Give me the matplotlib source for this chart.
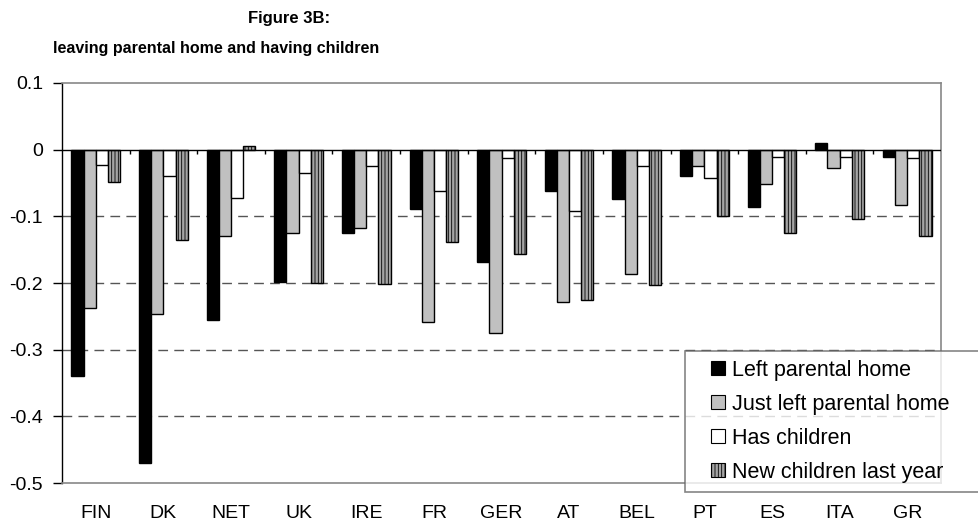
import matplotlib
matplotlib.use("Agg")
import matplotlib.pyplot as plt
import numpy as np
from matplotlib.patches import Patch, Rectangle
from matplotlib.legend_handler import HandlerPatch

plt.rcParams['font.family'] = ['Liberation Sans', 'DejaVu Sans']
plt.rcParams['axes.unicode_minus'] = False
plt.rcParams['hatch.linewidth'] = 0.6
plt.rcParams['hatch.color'] = '#8c8c8c'

countries = ["FIN", "DK", "NET", "UK", "IRE", "FR", "GER", "AT", "BEL", "PT", "ES", "ITA", "GR"]
left_home = [-0.340, -0.470, -0.255, -0.198, -0.125, -0.089, -0.169, -0.062, -0.074, -0.039, -0.086, 0.010, -0.011]
just_left = [-0.238, -0.246, -0.130, -0.125, -0.117, -0.259, -0.275, -0.228, -0.187, -0.024, -0.052, -0.027, -0.083]
has_children = [-0.023, -0.039, -0.072, -0.035, -0.024, -0.062, -0.013, -0.092, -0.024, -0.042, -0.011, -0.011, -0.013]
new_children = [-0.049, -0.135, 0.005, -0.200, -0.202, -0.138, -0.156, -0.225, -0.203, -0.099, -0.125, -0.104, -0.130]
series_labels = ["Left parental home", "Just left parental home", "Has children", "New children last year"]
yticks = [0.1, 0, -0.1, -0.2, -0.3, -0.4, -0.5]
ytick_labels = ["0.1", "0", "-0.1", "-0.2", "-0.3", "-0.4", "-0.5"]

W, H = 979, 529
fig = plt.figure(figsize=(W/100, H/100), dpi=100)
ax = fig.add_axes([62/W, (H-483)/H, 879/W, 400/H])

x = np.arange(len(countries))
bw = 0.18
styles = [
    dict(color='#000000', hatch=None),
    dict(color='#c0c0c0', hatch=None),
    dict(color='#ffffff', hatch=None),
    dict(color='#a4a4a4', hatch='|||||'),
]
data = [left_home, just_left, has_children, new_children]
for k, (vals, st) in enumerate(zip(data, styles)):
    ax.bar(x + (k - 1.5) * bw, vals, width=bw, facecolor=st['color'],
           edgecolor='black', linewidth=1.0, hatch=st['hatch'], zorder=3)

ax.set_xlim(-0.5, len(countries) - 0.5)
ax.set_ylim(-0.5, 0.1)

# gridlines
for yv in yticks[2:-1]:
    ax.axhline(yv, color='#555555', lw=1.0, ls=(0, (7, 4.5)), zorder=1)
ax.axhline(0, color='black', lw=1.0, zorder=4)
# category boundary ticks on the zero line
ax.vlines(np.arange(len(countries) - 1) + 0.5, -0.007, 0, color='black', lw=1.0, zorder=4)

ax.set_yticks(yticks)
ax.set_yticklabels(ytick_labels, fontsize=14)
ax.tick_params(axis='y', direction='out', length=6.5, width=1, color='black', pad=7)
ax.set_xticks(x)
ax.set_xticklabels(countries, fontsize=14)
ax.tick_params(axis='x', length=0, pad=16)

for s in ['top', 'right', 'bottom']:
    ax.spines[s].set_color('#888888')
    ax.spines[s].set_linewidth(1.2)
ax.spines['left'].set_color('black')
ax.spines['left'].set_linewidth(1.0)


def square_patch(legend, orig_handle, xdescent, ydescent, width, height, fontsize):
    side = height * 1.0
    return Rectangle((width - side - xdescent, -ydescent + (height - side) / 2), side, side)


handles = [Patch(facecolor=st['color'], edgecolor='black', linewidth=0.8, hatch=st['hatch'])
           for st in styles]
leg = fig.legend(handles, series_labels, loc='upper left',
                 bbox_to_anchor=(685/W, 1 - 494/H, 300/W, (494-351)/H), mode='expand',
                 fontsize=15.5, frameon=True, fancybox=False, edgecolor='#666666',
                 handlelength=1.45, handleheight=0.62, handletextpad=0.3,
                 labelspacing=0.6, borderpad=0.42, borderaxespad=0,
                 handler_map={Patch: HandlerPatch(patch_func=square_patch)})
leg.get_frame().set_linewidth(1.2)
leg.set_zorder(10)

fig.text(289/W, 1 - 19/H, "Figure 3B:", ha='center', va='center', fontsize=12, fontweight='bold')
fig.text(216/W, 1 - 48/H, "leaving parental home and having children", ha='center', va='center',
         fontsize=11.5, fontweight='bold')

fig.savefig("out.png", dpi=100)
